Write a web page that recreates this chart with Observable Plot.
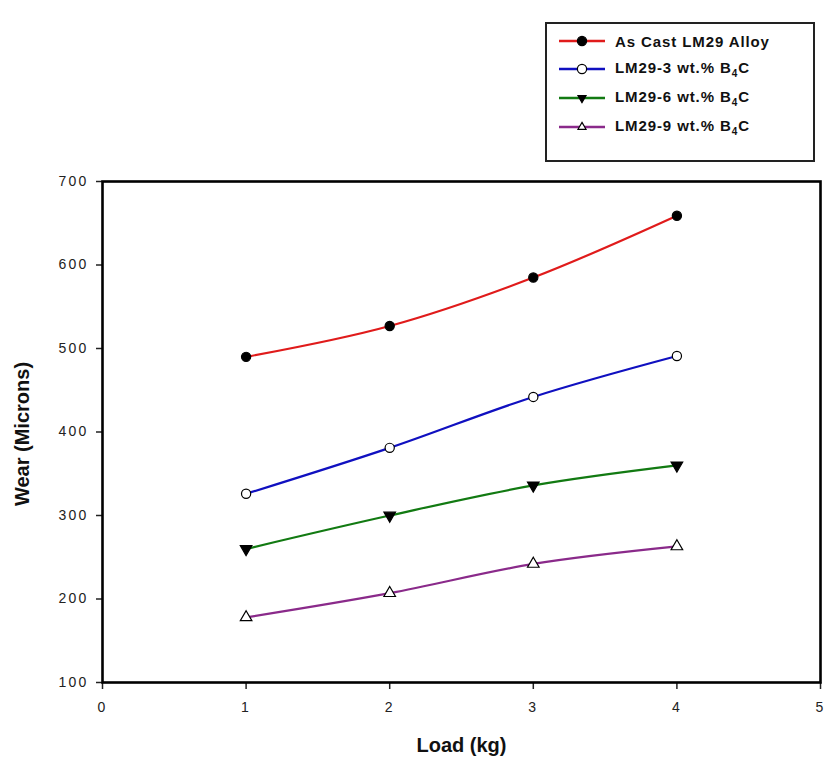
<!DOCTYPE html>
<html>
<head>
<meta charset="utf-8">
<script src="https://cdn.jsdelivr.net/npm/d3@7"></script>
<script src="https://cdn.jsdelivr.net/npm/@observablehq/plot@0.6"></script>
<style>
  html, body { margin: 0; padding: 0; background: #fff; }
  #wrap { position: relative; width: 824px; height: 763px; font-family: "Liberation Sans", Arial, sans-serif; }
  #chart g[aria-label="x-axis tick label"] text, #chart g[aria-label="y-axis tick label"] text { letter-spacing: 2.2px; }
  #chart g[aria-label="axis title"] text { letter-spacing: 0.6px; }
  #legend { position: absolute; left: 545px; top: 22px; width: 266px; height: 136px; border: 2px solid #222; background: #fff; box-sizing: content-box; }
  #legend .row { position: absolute; left: 0; height: 20px; display: flex; align-items: center; }
  #legend .row span { font-weight: bold; font-size: 15px; letter-spacing: 0.9px; color: #111; margin-left: 9px; white-space: nowrap; }
</style>
</head>
<body>
<div id="wrap">
  <div id="chart"></div>
  <div id="legend"></div>
</div>
<script>
const loads = [1, 2, 3, 4];
const seriesNames = ["As Cast LM29 Alloy", "LM29-3 wt.% B4C", "LM29-6 wt.% B4C", "LM29-9 wt.% B4C"];
const asCast = [490, 527, 585, 659];
const b4c3 = [326, 381, 442, 491];
const b4c6 = [260, 300, 336, 360];
const b4c9 = [178, 207, 242, 263];
const xTicks = [0, 1, 2, 3, 4, 5];
const yTicks = [100, 200, 300, 400, 500, 600, 700];
const axisTitles = ["Wear (Microns)", "Load (kg)"];

const styles = [
  {color: "#e01b1b", symbol: "circle", fill: "#000", rotate: 0},
  {color: "#1010c0", symbol: "circle", fill: "#fff", rotate: 0},
  {color: "#127a12", symbol: "triangle", fill: "#000", rotate: 180},
  {color: "#8a2a8a", symbol: "triangle", fill: "#fff", rotate: 0}
];
const allValues = [asCast, b4c3, b4c6, b4c9];
const data = [];
allValues.forEach((vals, i) => vals.forEach((v, j) => data.push({series: seriesNames[i], idx: i, load: loads[j], wear: v})));

const marks = [];
styles.forEach((s, i) => {
  const d = data.filter(r => r.idx === i);
  marks.push(Plot.line(d, {x: "load", y: "wear", stroke: s.color, strokeWidth: 2.2, curve: "catmull-rom"}));
});
styles.forEach((s, i) => {
  const d = data.filter(r => r.idx === i);
  marks.push(Plot.dot(d, {x: "load", y: "wear", symbol: s.symbol, r: s.symbol === "circle" ? 4.6 : 4.3, fill: s.fill, stroke: "#000", strokeWidth: 1.2, rotate: s.rotate}));
});

const chart = Plot.plot({
  width: 824,
  height: 763,
  marginLeft: 102,
  marginRight: 4,
  marginTop: 181,
  marginBottom: 81,
  style: {fontFamily: "Liberation Sans, Arial, sans-serif", background: "#fff", color: "#222"},
  x: {domain: [0, 5], ticks: xTicks},
  y: {domain: [100, 700], ticks: yTicks},
  marks: [
    Plot.axisX({ticks: xTicks, tickFormat: d3.format("d"), tickSize: 7, tickPadding: 13, fontSize: 14, label: null, strokeWidth: 1.5, fill: "#222"}),
    Plot.axisY({ticks: yTicks, tickFormat: d3.format("d"), tickSize: 6, tickPadding: 8, fontSize: 14, label: null, strokeWidth: 1.5, fill: "#222"}),
    Plot.frame({stroke: "#000", strokeWidth: 2.6}),
    ...marks,
    Plot.text([axisTitles[0]], {frameAnchor: "left", textAnchor: "middle", dx: -80, dy: 2, rotate: -90, fontSize: 20, fontWeight: "bold", fill: "#111", ariaLabel: "axis title"}),
    Plot.text([axisTitles[1]], {frameAnchor: "bottom", textAnchor: "middle", dy: 69, fontSize: 20, fontWeight: "bold", fill: "#111", ariaLabel: "axis title"})
  ]
});
document.getElementById("chart").appendChild(chart);

// Legend
const legend = document.getElementById("legend");
const rowTops = [7, 35, 64, 93];
const ns = "http://www.w3.org/2000/svg";
seriesNames.forEach((name, i) => {
  const s = styles[i];
  const row = document.createElement("div");
  row.className = "row";
  row.style.top = rowTops[i] + "px";
  row.style.left = "11px";
  const svg = document.createElementNS(ns, "svg");
  svg.setAttribute("width", 48);
  svg.setAttribute("height", 20);
  const ln = document.createElementNS(ns, "line");
  ln.setAttribute("x1", 1); ln.setAttribute("x2", 47); ln.setAttribute("y1", 10); ln.setAttribute("y2", 10);
  ln.setAttribute("stroke", s.color); ln.setAttribute("stroke-width", 2.4);
  svg.appendChild(ln);
  const sym = d3.symbol(s.symbol === "circle" ? d3.symbolCircle : d3.symbolTriangle, s.symbol === "circle" ? Math.PI * 4.6 * 4.6 : 28)();
  const p = document.createElementNS(ns, "path");
  p.setAttribute("d", sym);
  p.setAttribute("transform", `translate(24,10) rotate(${s.rotate})`);
  p.setAttribute("fill", s.fill); p.setAttribute("stroke", "#000"); p.setAttribute("stroke-width", 1.2);
  svg.appendChild(p);
  row.appendChild(svg);
  const span = document.createElement("span");
  if (name.endsWith("B4C")) {
    span.innerHTML = name.replace("B4C", "B<sub style=\"font-size:10px;vertical-align:-4px\">4</sub>C");
  } else {
    span.textContent = name;
  }
  row.appendChild(span);
  legend.appendChild(row);
});
</script>
</body>
</html>
